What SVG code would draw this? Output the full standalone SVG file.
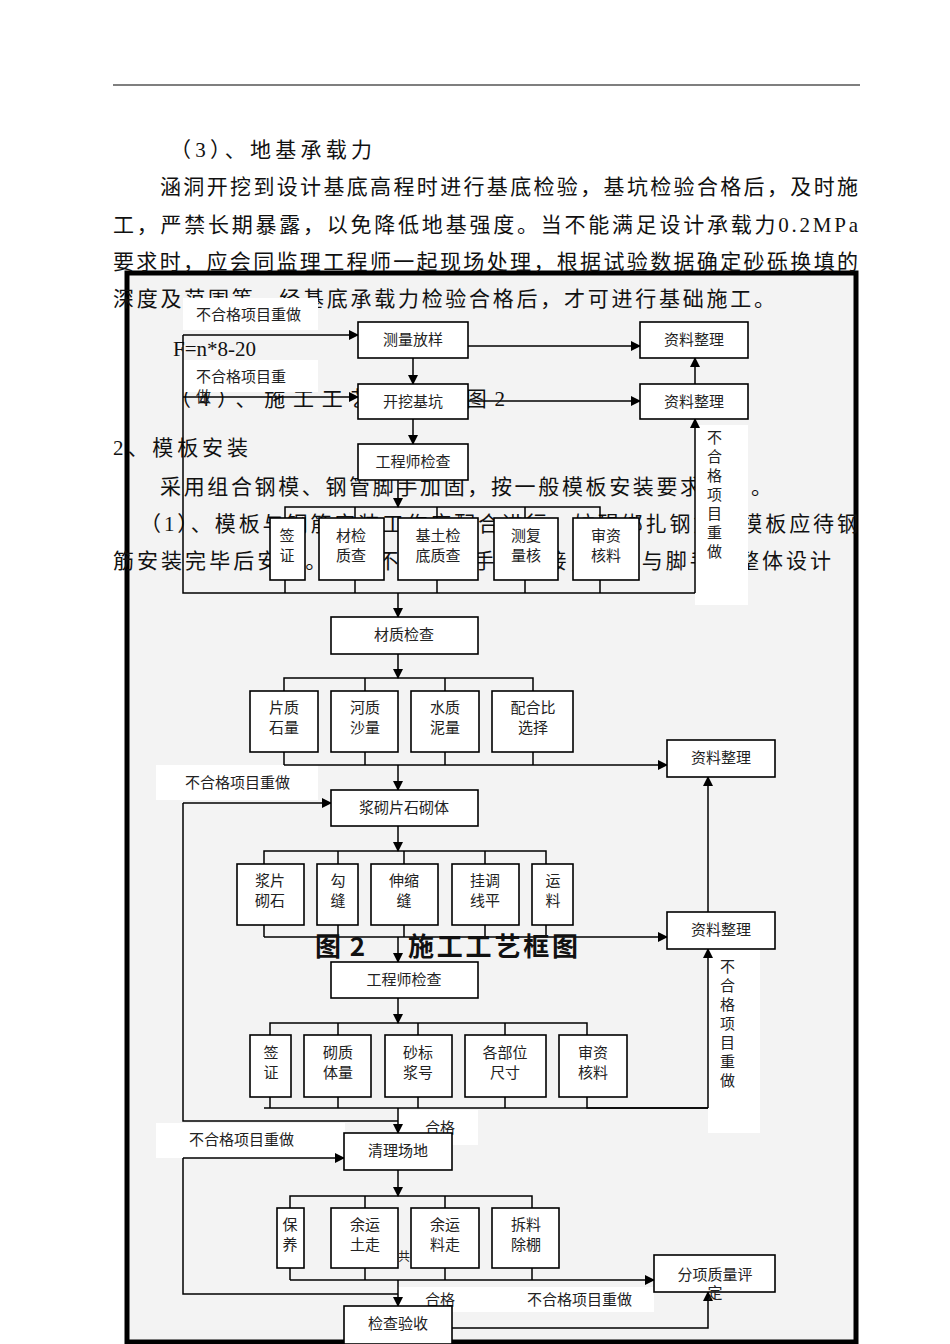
<svg xmlns="http://www.w3.org/2000/svg" width="950" height="1344" viewBox="0 0 950 1344">
<defs>
<marker id="ah" markerWidth="10" markerHeight="10" refX="9" refY="5" orient="auto" markerUnits="userSpaceOnUse"><path d="M0,0 L10,5 L0,10 z" fill="#000"/></marker>
<style>
.t{font-family:"Liberation Serif","Noto Sans CJK SC",serif;font-size:21px;fill:#111}
.b{fill:#fff;stroke:#000;stroke-width:1.6}
.n{font-family:"Noto Sans CJK SC",sans-serif;font-size:15px;fill:#222;text-anchor:middle}
.l{font-family:"Noto Sans CJK SC",sans-serif;font-size:15px;fill:#222}
.c{fill:none;stroke:#000;stroke-width:1.5}
.a{fill:none;stroke:#000;stroke-width:1.5;marker-end:url(#ah)}
.w{fill:#fff}
.h{font-family:"Noto Sans CJK SC",sans-serif;font-size:26px;font-weight:bold;fill:#111}
</style>
</defs>
<rect width="950" height="1344" fill="#fff"/>
<line x1="113" y1="85" x2="860" y2="85" stroke="#000" stroke-width="1.2"/>
<rect x="127" y="273" width="729" height="1069" fill="#f3f3f3" stroke="#000" stroke-width="5"/>
<g id="body">
<text class="t" x="170" y="157" textLength="202">（3）、地基承载力</text>
<text class="t" x="160" y="194" textLength="698">涵洞开挖到设计基底高程时进行基底检验，基坑检验合格后，及时施</text>
<text class="t" x="113" y="232" textLength="745">工，严禁长期暴露，以免降低地基强度。当不能满足设计承载力0.2MPa</text>
<text class="t" x="113" y="269" textLength="745">要求时，应会同监理工程师一起现场处理，根据试验数据确定砂砾换填的</text>
<text class="t" x="113" y="306" textLength="662">深度及范围等，经基底承载力检验合格后，才可进行基础施工。</text>
<text class="t" x="173" y="356">F=n*8-20</text>
<text class="t" x="170" y="406" textLength="335">（4）、施工工艺框图见图2</text>
<text class="t" x="113" y="455" textLength="135">2、模板安装</text>
<text class="t" x="160" y="494" textLength="612">采用组合钢模、钢管脚手加固，按一般模板安装要求进行。</text>
<text class="t" x="140" y="531" textLength="718">（1）、模板与钢筋安装工作应配合进行，妨碍绑扎钢筋的模板应待钢</text>
<text class="t" x="113" y="568" textLength="718">筋安装完毕后安设。模板不应与脚手架连接，避免与脚手架整体设计</text>
</g>
<g id="labels">
<rect class="w" x="183" y="298" width="135" height="32"/><text class="l" x="196" y="320">不合格项目重做</text>
<rect class="w" x="183" y="360" width="135" height="32"/><text class="l" x="196" y="382">不合格项目重</text><text class="l" x="196" y="402">做</text>
<rect class="w" x="695" y="425" width="53" height="180"/>
<text class="l" x="707" y="443">不</text><text class="l" x="707" y="462">合</text><text class="l" x="707" y="481">格</text><text class="l" x="707" y="500">项</text><text class="l" x="707" y="519">目</text><text class="l" x="707" y="538">重</text><text class="l" x="707" y="557">做</text>
<rect class="w" x="156" y="765" width="162" height="35"/><text class="l" x="185" y="788">不合格项目重做</text>
<rect class="w" x="708" y="949" width="52" height="184"/>
<text class="l" x="720" y="972">不</text><text class="l" x="720" y="991">合</text><text class="l" x="720" y="1010">格</text><text class="l" x="720" y="1029">项</text><text class="l" x="720" y="1048">目</text><text class="l" x="720" y="1067">重</text><text class="l" x="720" y="1086">做</text>
<rect class="w" x="398" y="1110" width="80" height="35"/><text class="l" x="425" y="1133">合格</text>
<rect class="w" x="156" y="1123" width="189" height="35"/><text class="l" x="189" y="1145">不合格项目重做</text>
<rect class="w" x="398" y="1287" width="256" height="25"/>
<text class="l" x="425" y="1305">合格</text><text class="l" x="527" y="1305">不合格项目重做</text>
</g>
<g id="connectors">
<path class="a" d="M183,335 H358"/><path class="a" d="M183,397 H358"/>
<path class="c" d="M183,335 V593 H695"/>
<path class="a" d="M413,358 V384"/><path class="a" d="M413,419 V444"/>
<path class="a" d="M468,346 H640"/><path class="a" d="M468,401 H640"/>
<path class="a" d="M695,593 V419"/><path class="a" d="M695,384 V358"/>
<path class="a" d="M398,480 V507"/>
<path class="c" d="M285,518 V507 H600 V518 M355,507 V518 M437,507 V518 M525,507 V518"/>
<path class="c" d="M285,580 V593 M355,580 V593 M437,580 V593 M525,580 V593 M600,580 V593"/>
<path class="a" d="M398,593 V617"/>
<path class="a" d="M398,654 V678"/>
<path class="c" d="M284,691 V678 H533 V691 M365,678 V691 M445,678 V691"/>
<path class="c" d="M284,752 V765 M365,752 V765 M445,752 V765 M533,752 V765"/>
<path class="a" d="M284,765 H667"/>
<path class="a" d="M398,765 V790"/>
<path class="a" d="M183,803 H331"/>
<path class="c" d="M183,803 V1121 H398"/>
<path class="a" d="M398,826 V851"/>
<path class="c" d="M264,864 V851 H546 V864 M338,851 V864 M404,851 V864 M485,851 V864"/>
<path class="c" d="M264,925 V937 M338,925 V937 M404,925 V937 M485,925 V937 M546,925 V937"/>
<path class="a" d="M264,937 H667"/>
<path class="a" d="M398,937 V962"/>
<path class="a" d="M708,912 V777"/>
<path class="a" d="M398,998 V1023"/>
<path class="c" d="M270,1035 V1023 H587 V1035 M338,1023 V1035 M418,1023 V1035 M505,1023 V1035"/>
<path class="c" d="M270,1097 V1108 M338,1097 V1108 M418,1097 V1108 M505,1097 V1108 M587,1097 V1108 H708"/>
<path class="c" d="M264,1108 H708"/>
<path class="a" d="M708,1108 V949"/>
<path class="a" d="M398,1108 V1133"/>
<path class="a" d="M183,1158 H344"/>
<path class="c" d="M183,1158 V1294 H398"/>
<path class="a" d="M398,1170 V1196"/>
<path class="c" d="M290,1208 V1196 H532 V1208 M365,1196 V1208 M445,1196 V1208"/>
<path class="c" d="M290,1268 V1280 M365,1268 V1280 M445,1268 V1280 M532,1268 V1280"/>
<path class="a" d="M290,1280 H654"/>
<path class="a" d="M398,1280 V1306"/>
<path class="a" d="M452,1328 H708 V1292"/>
</g>
<g id="n1"><rect class="b" x="358" y="322" width="110" height="36"/><text class="n" x="413" y="345">测量放样</text></g>
<g id="n2"><rect class="b" x="640" y="322" width="108" height="36"/><text class="n" x="694" y="345">资料整理</text></g>
<g id="n3"><rect class="b" x="358" y="384" width="110" height="35"/><text class="n" x="413" y="407">开挖基坑</text></g>
<g id="n4"><rect class="b" x="640" y="384" width="108" height="35"/><text class="n" x="694" y="407">资料整理</text></g>
<g id="n5"><rect class="b" x="358" y="444" width="110" height="36"/><text class="n" x="413" y="467">工程师检查</text></g>
<g id="r1a"><rect class="b" x="270" y="518" width="35" height="62"/><text class="n" x="287" y="541">签</text><text class="n" x="287" y="561">证</text></g>
<g id="r1b"><rect class="b" x="319" y="518" width="65" height="62"/><text class="n" x="351" y="541">材检</text><text class="n" x="351" y="561">质查</text></g>
<g id="r1c"><rect class="b" x="398" y="518" width="80" height="62"/><text class="n" x="438" y="541">基土检</text><text class="n" x="438" y="561">底质查</text></g>
<g id="r1d"><rect class="b" x="494" y="518" width="64" height="62"/><text class="n" x="526" y="541">测复</text><text class="n" x="526" y="561">量核</text></g>
<g id="r1e"><rect class="b" x="573" y="518" width="66" height="62"/><text class="n" x="606" y="541">审资</text><text class="n" x="606" y="561">核料</text></g>
<g id="n6"><rect class="b" x="331" y="617" width="147" height="37"/><text class="n" x="404" y="640">材质检查</text></g>
<g id="r2a"><rect class="b" x="250" y="691" width="68" height="61"/><text class="n" x="284" y="713">片质</text><text class="n" x="284" y="733">石量</text></g>
<g id="r2b"><rect class="b" x="331" y="691" width="67" height="61"/><text class="n" x="365" y="713">河质</text><text class="n" x="365" y="733">沙量</text></g>
<g id="r2c"><rect class="b" x="411" y="691" width="68" height="61"/><text class="n" x="445" y="713">水质</text><text class="n" x="445" y="733">泥量</text></g>
<g id="r2d"><rect class="b" x="492" y="691" width="81" height="61"/><text class="n" x="533" y="713">配合比</text><text class="n" x="533" y="733">选择</text></g>
<g id="n7"><rect class="b" x="667" y="740" width="108" height="37"/><text class="n" x="721" y="763">资料整理</text></g>
<g id="n8"><rect class="b" x="331" y="790" width="147" height="36"/><text class="n" x="404" y="813">浆砌片石砌体</text></g>
<g id="r3a"><rect class="b" x="237" y="864" width="67" height="61"/><text class="n" x="270" y="886">浆片</text><text class="n" x="270" y="906">砌石</text></g>
<g id="r3b"><rect class="b" x="317" y="864" width="41" height="61"/><text class="n" x="338" y="886">勾</text><text class="n" x="338" y="906">缝</text></g>
<g id="r3c"><rect class="b" x="371" y="864" width="67" height="61"/><text class="n" x="404" y="886">伸缩</text><text class="n" x="404" y="906">缝</text></g>
<g id="r3d"><rect class="b" x="452" y="864" width="67" height="61"/><text class="n" x="485" y="886">挂调</text><text class="n" x="485" y="906">线平</text></g>
<g id="r3e"><rect class="b" x="532" y="864" width="41" height="61"/><text class="n" x="553" y="886">运</text><text class="n" x="553" y="906">料</text></g>
<g id="n9"><rect class="b" x="667" y="912" width="108" height="37"/><text class="n" x="721" y="935">资料整理</text></g>
<g id="n10"><rect class="b" x="331" y="962" width="147" height="36"/><text class="n" x="404" y="985">工程师检查</text></g>
<g id="r4a"><rect class="b" x="250" y="1035" width="41" height="62"/><text class="n" x="271" y="1058">签</text><text class="n" x="271" y="1078">证</text></g>
<g id="r4b"><rect class="b" x="304" y="1035" width="67" height="62"/><text class="n" x="338" y="1058">砌质</text><text class="n" x="338" y="1078">体量</text></g>
<g id="r4c"><rect class="b" x="385" y="1035" width="67" height="62"/><text class="n" x="418" y="1058">砂标</text><text class="n" x="418" y="1078">浆号</text></g>
<g id="r4d"><rect class="b" x="465" y="1035" width="81" height="62"/><text class="n" x="505" y="1058">各部位</text><text class="n" x="505" y="1078">尺寸</text></g>
<g id="r4e"><rect class="b" x="559" y="1035" width="68" height="62"/><text class="n" x="593" y="1058">审资</text><text class="n" x="593" y="1078">核料</text></g>
<g id="n11"><rect class="b" x="344" y="1133" width="108" height="37"/><text class="n" x="398" y="1156">清理场地</text></g>
<g id="r5a"><rect class="b" x="277" y="1208" width="27" height="60"/><text class="n" x="290" y="1230">保</text><text class="n" x="290" y="1250">养</text></g>
<g id="r5b"><rect class="b" x="331" y="1208" width="67" height="60"/><text class="n" x="365" y="1230">余运</text><text class="n" x="365" y="1250">土走</text></g>
<g id="r5c"><rect class="b" x="411" y="1208" width="68" height="60"/><text class="n" x="445" y="1230">余运</text><text class="n" x="445" y="1250">料走</text></g>
<g id="r5d"><rect class="b" x="492" y="1208" width="67" height="60"/><text class="n" x="526" y="1230">拆料</text><text class="n" x="526" y="1250">除棚</text></g>
<text class="l" x="398" y="1261" style="font-size:12px">共</text>
<g id="n12"><rect class="b" x="654" y="1255" width="121" height="37"/><text class="n" x="715" y="1280">分项质量评</text><text class="n" x="715" y="1298">定</text></g>
<g id="n13"><rect class="b" x="344" y="1306" width="108" height="38"/><text class="n" x="398" y="1329">检查验收</text></g>
<text class="h" x="315" y="956" textLength="50">图 2</text>
<text class="h" x="408" y="956" textLength="170">施工工艺框图</text>
</svg>
